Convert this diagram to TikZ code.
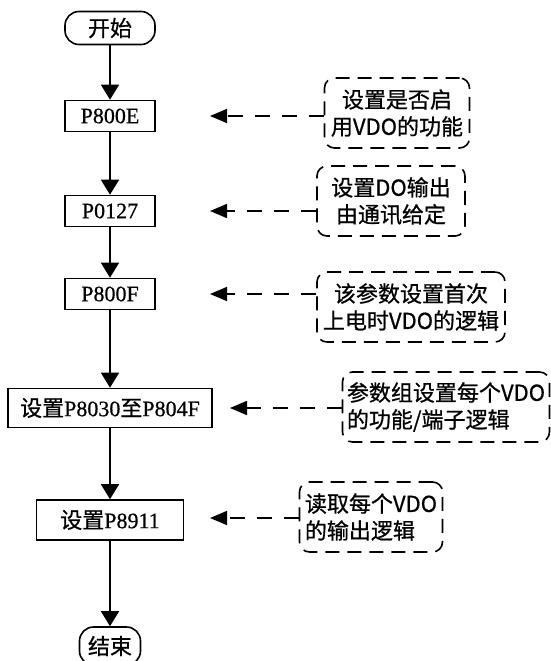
\documentclass[tikz,border=0pt]{standalone}
\usepackage{fontspec}
\setmainfont{Liberation Serif}[FakeBold=0.6]
\newfontfamily\cjk{Noto Sans CJK SC}[FakeBold=0.8]
\usetikzlibrary{arrows.meta}

\begin{document}
\begin{tikzpicture}[
    x=1pt, y=-1pt,
    every node/.style={font=\fontsize{22}{27}\selectfont},
    regbox/.style={draw, line width=1.6pt, minimum height=31pt, inner sep=0pt},
    termbox/.style={regbox, rounded corners=14pt, font=\fontsize{22}{27}\selectfont\cjk},
    notebox/.style={draw, dash pattern=on 14pt off 8pt, line width=1.6pt, rounded corners=10pt, align=center, inner xsep=4pt, minimum height=70pt, font=\fontsize{22}{27}\selectfont\cjk},
    flow/.style={-{Triangle[length=15pt, width=18pt]}, line width=1.6pt},
    hint/.style={-{Triangle[length=17pt, width=14pt]}, line width=1.6pt, dash pattern=on 15pt off 12pt}
  ]
    \useasboundingbox (0,0) rectangle (551,661);

    \node[termbox, minimum width=90pt, minimum height=33pt] (start) at (110,28) {开始};
    \node[regbox, minimum width=90pt] (e800) at (110,116) {P800E};
    \node[regbox, minimum width=90pt] (p127) at (110,211) {P0127};
    \node[regbox, minimum width=90pt] (f800) at (110,294) {P800F};
    \node[regbox, minimum width=204pt, minimum height=39pt] (grp) at (110,408) {{\cjk 设置}P8030{\cjk 至}P804F};
    \node[regbox, minimum width=147pt, minimum height=40pt] (p8911) at (110,520) {{\cjk 设置}P8911};
    \node[termbox, minimum width=61pt, minimum height=38pt] (stop) at (110,646) {结束};

    \draw[flow] (start) -- (e800);
    \draw[flow] (e800) -- (p127);
    \draw[flow] (p127) -- (f800);
    \draw[flow] (f800) -- (grp);
    \draw[flow] (grp) -- (p8911);
    \draw[flow] (p8911) -- (stop);

    \node[notebox, minimum width=145pt] (n1) at (397,113) {设置是否启\\用VDO的功能};
    \node[notebox, minimum width=148pt] (n2) at (391,201) {设置DO输出\\由通讯给定};
    \node[notebox, minimum width=188pt] (n3) at (411,307) {该参数设置首次\\上电时VDO的逻辑};
    \node[notebox, minimum width=207pt, align=left] (n4) at (446,407) {参数组设置每个VDO\\的功能/端子逻辑};
    \node[notebox, minimum width=143pt, align=left] (n5) at (371,517) {读取每个VDO\\的输出逻辑};

    \coordinate (t1) at (210,116);
    \coordinate (t2) at (210,211);
    \coordinate (t3) at (210,294);
    \coordinate (t4) at (230,408);
    \coordinate (t5) at (210,518);

    \draw[hint] (n1.west |- t1) -- (t1);
    \draw[hint] (n2.west |- t2) -- (t2);
    \draw[hint] (n3.west |- t3) -- (t3);
    \draw[hint] (n4.west |- t4) -- (t4);
    \draw[hint] (n5.west |- t5) -- (t5);
  \end{tikzpicture}
\end{document}
